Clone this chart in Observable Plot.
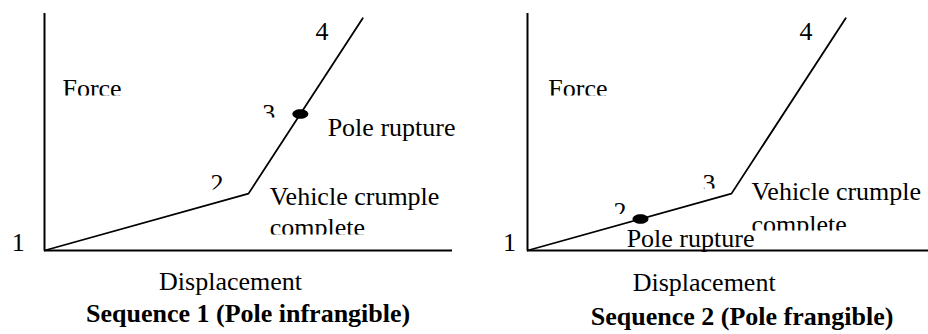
<!DOCTYPE html>
<html>
<head>
<meta charset="utf-8">
<script src="https://cdn.jsdelivr.net/npm/d3@7"></script>
<script src="https://cdn.jsdelivr.net/npm/@observablehq/plot@0.6"></script>
<style>
  body { margin: 0; background: #fff; }
  #chart { display: flex; width: 928px; height: 334px; overflow: hidden; }
  #chart svg { overflow: hidden; font-family: "Liberation Serif", "Times New Roman", serif !important; }
  #chart svg text { font-family: "Liberation Serif", "Times New Roman", serif !important; }
</style>
</head>
<body>
<div id="chart"></div>
<script>
// ---- Data (schematic units) ----
const pathX = [0, 50, 78];          // displacement at points 1, 2/3 (knee), 4
const pathY = [0, 24, 98];          // force at the same points
const ruptureX = [62.7, 27.7];      // pole rupture point, panel 1 and panel 2
const ruptureY = [57.6, 13.3];
const panelTitles = ["Sequence 1 (Pole infrangible)", "Sequence 2 (Pole frangible)"];
const xLabel = "Displacement";
const yLabel = "Force";
const pointLabels = ["1", "2", "3", "4"];
const crumpleLabel = ["Vehicle crumple", "complete"];
const ruptureLabel = "Pole rupture";

// annotation anchor positions (data units), per panel
const pointLabelX = [[-8, 40.7, 53.4, 66.4], [-6, 21.1, 42.9, 66.7]];
const pointLabelY = [[0, 24.5, 54.4, 89], [0, 12.9, 24.5, 89]];
const forceLabelX = [4.4, 5.1];
const forceLabelY = [64.6, 64.6];
const crumpleLabelX = [55.2, 54.9];
const crumpleLabelY = [[19.4, 6.3], [21.5, 7.2]];
const ruptureLabelX = [69.4, 24.3];
const ruptureLabelY = [48.5, 1.3];
const xLabelX = [45.6, 43.3];
const xLabelY = [-16.5, -16.9];
const titleX = [49.9, 52.6];
const titleY = [-30, -31.6];

// ---- Styling ----
const FONT = "Liberation Serif";
const FS = 26;
// pixels above baseline where each annotation is cut off (text-box clipping), per panel
const clipCuts = [
  [null, 3, 4, null, 2, null, 1, null],
  [null, 6, 4, null, 2, null, 3, null]
];

const ellipse = {
  draw(ctx, size) {
    const r = Math.sqrt(size / Math.PI);
    const rx = r * 1.6, ry = r * 0.95, k = 0.5523;
    ctx.moveTo(rx, 0);
    ctx.bezierCurveTo(rx, ry * k, rx * k, ry, 0, ry);
    ctx.bezierCurveTo(-rx * k, ry, -rx, ry * k, -rx, 0);
    ctx.bezierCurveTo(-rx, -ry * k, -rx * k, -ry, 0, -ry);
    ctx.bezierCurveTo(rx * k, -ry, rx, -ry * k, rx, 0);
    ctx.closePath();
  }
};

function makePanel(p) {
  const linePts = pathX.map((x, i) => ({x, y: pathY[i]}));
  const annots = [
    ...pointLabels.map((t, i) => ({text: t, x: pointLabelX[p][i], y: pointLabelY[p][i]})),
    {text: yLabel, x: forceLabelX[p], y: forceLabelY[p]},
    {text: crumpleLabel[0], x: crumpleLabelX[p], y: crumpleLabelY[p][0]},
    {text: crumpleLabel[1], x: crumpleLabelX[p], y: crumpleLabelY[p][1]},
    {text: ruptureLabel, x: ruptureLabelX[p], y: ruptureLabelY[p]}
  ];
  const svg = Plot.plot({
    width: 464,
    height: 334,
    marginLeft: p === 0 ? 44 : 63,
    marginRight: p === 0 ? 12 : 0,
    marginTop: 13,
    marginBottom: 84,
    x: {domain: p === 0 ? [0, 100] : [0, 98.3], axis: null},
    y: {domain: [0, 100], axis: null},
    style: {fontFamily: FONT, fontSize: FS + "px", color: "black", background: "white"},
    marks: [
      Plot.ruleX([0], {stroke: "black", strokeWidth: 2}),
      Plot.ruleY([0], {stroke: "black", strokeWidth: 2}),
      Plot.line(linePts, {x: "x", y: "y", stroke: "black", strokeWidth: 1.8, strokeLinejoin: "miter"}),
      Plot.dot([{x: ruptureX[p], y: ruptureY[p]}], {x: "x", y: "y", r: 5, symbol: ellipse, fill: "black", stroke: "none"}),
      Plot.text(annots, {x: "x", y: "y", text: "text", textAnchor: "start", lineAnchor: "bottom",
        fontSize: FS, fontFamily: FONT, fill: "black"}),
      Plot.text([xLabel], {x: xLabelX[p], y: xLabelY[p], text: d => d, textAnchor: "middle", lineAnchor: "bottom",
        fontSize: FS, fontFamily: FONT, fill: "black"}),
      Plot.text([panelTitles[p]], {x: titleX[p], y: titleY[p], text: d => d, textAnchor: "middle", lineAnchor: "bottom",
        fontSize: FS, fontFamily: FONT, fontWeight: "bold", fill: "black"})
    ]
  });
  // emulate the clipped text boxes of the original figure
  const ns = "http://www.w3.org/2000/svg";
  const defs = document.createElementNS(ns, "defs");
  svg.insertBefore(defs, svg.firstChild);
  const yScale = svg.scale("y");
  annots.forEach((a, i) => {
    const c = clipCuts[p][i];
    if (c == null) return;
    const t = Array.from(svg.querySelectorAll("text")).find(el => el.textContent === a.text);
    if (!t) return;
    const base = yScale.apply(a.y);
    const id = `clip-${p}-${i}`;
    const cp = document.createElementNS(ns, "clipPath");
    cp.setAttribute("id", id);
    cp.setAttribute("clipPathUnits", "userSpaceOnUse");
    const r = document.createElementNS(ns, "rect");
    r.setAttribute("x", 0);
    r.setAttribute("y", base - 100);
    r.setAttribute("width", 464);
    r.setAttribute("height", 100 - c);
    cp.appendChild(r);
    defs.appendChild(cp);
    const g = document.createElementNS(ns, "g");
    g.setAttribute("clip-path", `url(#${id})`);
    t.parentNode.insertBefore(g, t);
    g.appendChild(t);
  });
  return svg;
}

const root = document.getElementById("chart");
root.appendChild(makePanel(0));
root.appendChild(makePanel(1));
</script>
</body>
</html>
